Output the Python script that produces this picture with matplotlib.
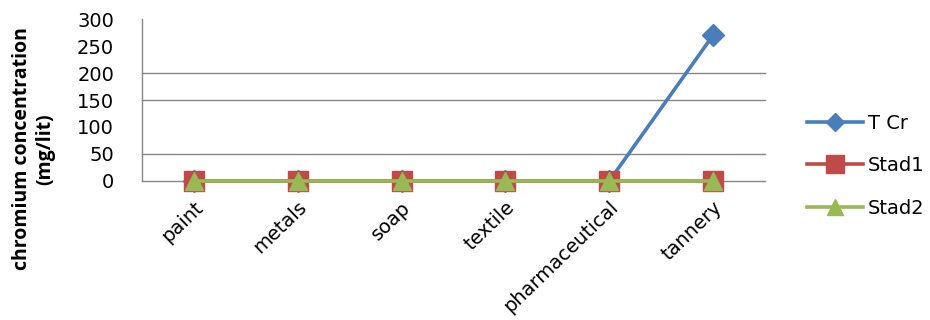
import matplotlib
matplotlib.use("Agg")
import matplotlib.pyplot as plt
from matplotlib.lines import Line2D

categories = ["paint", "metals", "soap", "textile", "pharmaceutical", "tannery"]
t_cr = [0, 0, 0, 0, 0, 270]
stad1 = [0.1, 0.1, 0.1, 0.1, 0.1, 0.1]
stad2 = [0.05, 0.05, 0.05, 0.05, 0.05, 0.05]
yticks = [0, 50, 100, 150, 200, 250, 300]
grid_levels = [50, 150, 200]

plt.rcParams['font.family'] = ['DejaVu Sans']

fig = plt.figure(figsize=(9.3, 3.2), dpi=100)
ax = fig.add_axes([0.1527, 0.4344, 0.6699, 0.5062])

blue = '#4a7ebb'
red = '#be4b48'
green = '#98b954'

x = list(range(len(categories)))
ax.plot(x, t_cr, color=blue, lw=2.6, marker='D', ms=11, zorder=3, label='T Cr')
ax.plot(x, stad1, color=red, lw=2.6, marker='s', ms=15, zorder=4, label='Stad1')
ax.plot(x, stad2, color=green, lw=2.6, marker='^', ms=13, zorder=5, label='Stad2')

for g in grid_levels:
    ax.axhline(g, color='#868686', lw=1.0, zorder=1)

ax.set_xlim(-0.5, len(categories) - 0.5)
ax.set_ylim(0, 300)
ax.set_yticks(yticks)
ax.set_yticklabels([str(v) for v in yticks], fontsize=14)
ax.set_xticks(x)
ax.set_xticklabels(categories, rotation=44, ha='right', rotation_mode='anchor', fontsize=14)
ax.tick_params(axis='both', length=0)
ax.tick_params(axis='y', pad=20)
ax.tick_params(axis='x', pad=12)
for s in ['top', 'right']:
    ax.spines[s].set_visible(False)
for s in ['left', 'bottom']:
    ax.spines[s].set_color('#868686')
    ax.spines[s].set_linewidth(1.0)
for ln in ax.lines:
    ln.set_clip_on(False)

fig.text(0.036, 0.535, "chromium concentration\n(mg/lit)", rotation=90, ha='center', va='center',
         multialignment='center', fontsize=14, fontweight='bold', linespacing=1.2,
         family=['Open Sans', 'DejaVu Sans'])

handles = [
    Line2D([], [], color=blue, lw=2.6, marker='D', ms=9),
    Line2D([], [], color=red, lw=2.6, marker='s', ms=13),
    Line2D([], [], color=green, lw=2.6, marker='^', ms=12),
]
leg = fig.legend(handles, ['T Cr', 'Stad1', 'Stad2'], loc='center left',
                 bbox_to_anchor=(0.857, 0.482), frameon=False, fontsize=14,
                 handlelength=2.9, handletextpad=0.25, labelspacing=1.2, borderpad=0)

fig.savefig("out.png", dpi=100)
